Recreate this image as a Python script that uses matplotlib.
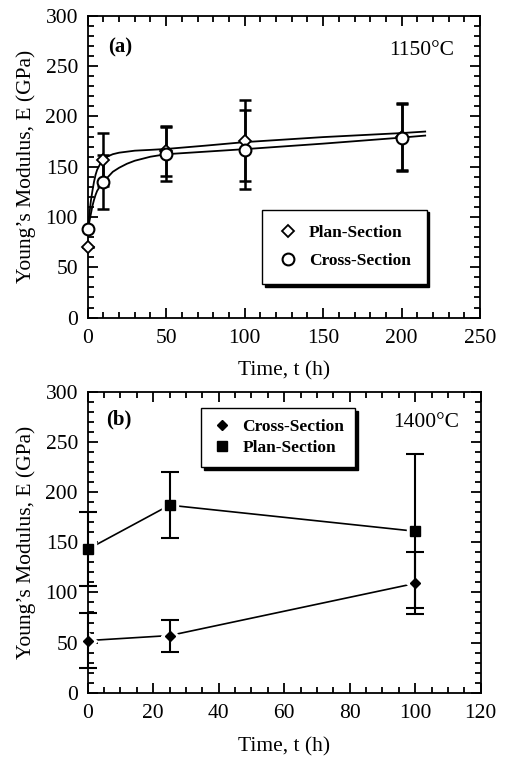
import numpy as np
import matplotlib
matplotlib.use('Agg')
import matplotlib.pyplot as plt
from matplotlib.ticker import MultipleLocator

plt.rcParams['font.family'] = ['Liberation Serif', 'DejaVu Serif']
plt.rcParams['font.size'] = 15.5
plt.rcParams['mathtext.default'] = 'regular'

# panel (a), 1150 C
a_time = [0, 10, 50, 100, 200]
a_plan = [70, 157, 166, 176, 180]
a_plan_err = [0, 26.5, 25, 40, 33]
a_cross = [88, 135, 163, 167, 179]
a_cross_err = [0, 27, 27, 39, 33]

# fitted curves
a_plan_fit_t = [0, 1, 2, 3, 4, 5, 6, 8, 10, 13, 16, 20, 25, 30, 40, 50, 75, 100, 150, 200, 215]
a_plan_fit = [88, 102, 116, 126, 135, 142, 147, 153, 157, 160.5, 162.5, 164, 165, 166, 166.8,
              167.7, 171, 174.5, 179.5, 183.5, 185]
a_cross_fit_t = [0, 1, 2, 3, 4, 5, 6, 8, 10, 13, 16, 20, 25, 30, 40, 50, 75, 100, 150, 200, 215]
a_cross_fit = [86, 95, 103, 111, 117, 122, 126, 131, 135, 140, 145, 149, 153, 156, 160,
               162.5, 165, 167.5, 173, 179, 181]

# panel (b), 1400 C
b_time = [0, 25, 100]
b_cross = [52, 57, 109]
b_cross_err = [27.5, 16, 31]
b_plan = [143, 187, 161]
b_plan_err = [37, 33, 77]


def style_axes(ax, xmaj, xmin):
	ax.xaxis.set_major_locator(MultipleLocator(xmaj))
	ax.xaxis.set_minor_locator(MultipleLocator(xmin))
	ax.yaxis.set_major_locator(MultipleLocator(50))
	ax.yaxis.set_minor_locator(MultipleLocator(10))
	ax.tick_params(which='both', direction='in', top=True, right=True, width=1.3)
	ax.tick_params(which='major', length=7)
	ax.tick_params(which='minor', length=4)
	ax.tick_params(axis='x', pad=8)
	ax.tick_params(axis='y', pad=7)
	for s in ax.spines.values():
		s.set_linewidth(1.3)
	ax.set_ylabel('Young\u2019s Modulus, E (GPa)', labelpad=7)
	ax.set_xlabel('Time, t (h)', labelpad=10)


fig = plt.figure(figsize=(5.07, 7.58), dpi=100)
ax1 = fig.add_axes([0.173, 0.581, 0.774, 0.398])
ax2 = fig.add_axes([0.173, 0.0861, 0.775, 0.397])

# (a)
ax1.plot(a_plan_fit_t, a_plan_fit, color='k', lw=1.3, zorder=2)
ax1.plot(a_cross_fit_t, a_cross_fit, color='k', lw=1.3, zorder=2)
ax1.errorbar(a_time, a_plan, yerr=a_plan_err, fmt='none', ecolor='k', elinewidth=1.8,
             capsize=4, capthick=1.8, zorder=3, clip_on=False)
ax1.errorbar(a_time, a_cross, yerr=a_cross_err, fmt='none', ecolor='k', elinewidth=1.8,
             capsize=4, capthick=1.8, zorder=3, clip_on=False)
ax1.plot(a_time, a_plan, 'D', ms=6, mfc='white', mec='k', mew=1.3, ls='none',
         label='Plan-Section', zorder=4, clip_on=False)
ax1.plot(a_time, a_cross, 'o', ms=8.5, mfc='white', mec='k', mew=1.5, ls='none',
         label='Cross-Section', zorder=5, clip_on=False)
ax1.set_xlim(0, 250)
ax1.set_ylim(0, 300)
style_axes(ax1, 50, 10)
ax1.text(0.082, 0.894, '(a)', transform=ax1.transAxes, ha='center', va='center',
         fontweight='bold', fontsize=15)
ax1.text(0.851, 0.887, '1150\u00b0C', transform=ax1.transAxes, ha='center', va='center',
         fontsize=15.5)
leg1 = ax1.legend(loc='center', bbox_to_anchor=(0.654, 0.234), frameon=True, fancybox=False,
                  edgecolor='k', framealpha=1, shadow={'color': 'k', 'alpha': 1},
                  prop={'weight': 'bold', 'size': 12.5}, handletextpad=0.6, borderpad=0.9,
                  labelspacing=0.65, handlelength=1.2)
leg1.get_frame().set_linewidth(1.0)

# (b)
ax2.plot(b_time, b_cross, color='k', lw=1.2, zorder=2)
ax2.plot(b_time, b_plan, color='k', lw=1.2, zorder=2)
ax2.plot(b_time, b_cross, 'D', ms=9, mfc='white', mec='white', ls='none', zorder=3)
ax2.plot(b_time, b_plan, 's', ms=12, mfc='white', mec='white', ls='none', zorder=3)
ax2.errorbar(b_time, b_cross, yerr=b_cross_err, fmt='none', ecolor='k', elinewidth=1.5,
             capsize=6.5, capthick=1.5, zorder=4, clip_on=False)
ax2.errorbar(b_time, b_plan, yerr=b_plan_err, fmt='none', ecolor='k', elinewidth=1.5,
             capsize=6.5, capthick=1.5, zorder=4, clip_on=False)
ax2.plot(b_time, b_cross, 'D', ms=5.5, color='k', ls='none', label='Cross-Section',
         zorder=5, clip_on=False)
ax2.plot(b_time, b_plan, 's', ms=7, color='k', ls='none', label='Plan-Section',
         zorder=5, clip_on=False)
ax2.set_xlim(0, 120)
ax2.set_ylim(0, 300)
style_axes(ax2, 20, 5)
ax2.text(0.078, 0.908, '(b)', transform=ax2.transAxes, ha='center', va='center',
         fontweight='bold', fontsize=15)
ax2.text(0.862, 0.897, '1400\u00b0C', transform=ax2.transAxes, ha='center', va='center',
         fontsize=15.5)
leg2 = ax2.legend(loc='center', bbox_to_anchor=(0.484, 0.848), frameon=True, fancybox=False,
                  edgecolor='k', framealpha=1, shadow={'color': 'k', 'alpha': 1},
                  prop={'weight': 'bold', 'size': 12.5}, handletextpad=0.6, borderpad=0.6,
                  labelspacing=0.3, handlelength=1.2)
leg2.get_frame().set_linewidth(1.0)

fig.savefig('out.png', dpi=100)
